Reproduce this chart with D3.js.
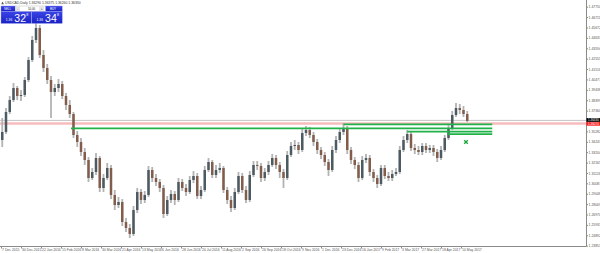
<!DOCTYPE html>
<html><head><meta charset="utf-8">
<script src="https://cdn.jsdelivr.net/npm/d3@7"></script>
<style>
html,body{margin:0;padding:0;background:#fff;overflow:hidden}
svg{display:block;font-family:"Liberation Sans",Arial,sans-serif}
</style></head><body>
<svg id="c" width="600" height="253"></svg>
<script>
// ---------------- data ----------------
const symbolTitle = "USDCAD,Daily  1.36290 1.36375 1.36260 1.36330";
const dateLabels = ["7 Dec 2015","30 Dec 2015","22 Jan 2016","15 Feb 2016","8 Mar 2016","30 Mar 2016",
  "21 Apr 2016","13 May 2016","6 Jun 2016","28 Jun 2016","20 Jul 2016","11 Aug 2016","2 Sep 2016",
  "26 Sep 2016","18 Oct 2016","9 Nov 2016","1 Dec 2016","23 Dec 2016","16 Jan 2017","9 Feb 2017",
  "3 Mar 2017","27 Mar 2017","18 Apr 2017","10 May 2017"];
const barsPerLabel = 16;
const barsPerCandle = 3;
const totalBars = 468;
const priceTicks = [1.47750,1.46711,1.45672,1.44633,1.43594,1.42555,1.41516,1.40477,1.39438,1.38399,
  1.37360,1.36321,1.35282,1.34243,1.33204,1.32165,1.31126,1.30087,1.29048,1.28009,1.26970,1.25931,
  1.24892,1.23853];
// [open, high, low, close]
const candles = [
[1.3442,1.3662,1.3372,1.3522],[1.3522,1.3762,1.3502,1.3722],[1.3722,1.3882,1.3702,1.3842],[1.3842,1.4012,1.3822,1.3962],
[1.3962,1.3982,1.3842,1.3882],[1.3882,1.3942,1.3832,1.3892],[1.3892,1.4072,1.3872,1.4042],[1.4042,1.4272,1.4022,1.4242],
[1.4242,1.4482,1.4222,1.4442],[1.4442,1.4622,1.4412,1.4562],[1.4562,1.4592,1.4262,1.4292],[1.4292,1.4342,1.4122,1.4162],
[1.4162,1.4202,1.4002,1.4042],[1.4042,1.4082,1.3662,1.3922],[1.3922,1.4002,1.3882,1.3962],[1.3962,1.4052,1.3922,1.4002],
[1.4002,1.4032,1.3852,1.3882],[1.3882,1.3912,1.3742,1.3792],[1.3792,1.3842,1.3662,1.3702],[1.3702,1.3722,1.3462,1.3492],
[1.3492,1.3532,1.3372,1.3422],[1.3422,1.3462,1.3282,1.3322],[1.3322,1.3362,1.3192,1.3242],[1.3242,1.3272,1.3022,1.3062],
[1.3062,1.3162,1.3042,1.3122],[1.3122,1.3312,1.3092,1.3262],[1.3262,1.3282,1.2922,1.2962],[1.2962,1.3102,1.2922,1.3062],
[1.3062,1.3212,1.3042,1.3162],[1.3162,1.3192,1.2852,1.2892],[1.2892,1.2942,1.2742,1.2792],[1.2792,1.2872,1.2762,1.2822],
[1.2822,1.2852,1.2582,1.2622],[1.2622,1.2662,1.2522,1.2562],[1.2562,1.2602,1.2462,1.2502],[1.2502,1.2782,1.2482,1.2742],
[1.2742,1.2962,1.2712,1.2922],[1.2922,1.2952,1.2802,1.2842],[1.2842,1.2932,1.2812,1.2892],[1.2892,1.3182,1.2872,1.3142],
[1.3142,1.3172,1.3022,1.3062],[1.3062,1.3102,1.2982,1.3022],[1.3022,1.3052,1.2922,1.2962],[1.2962,1.2992,1.2662,1.2702],
[1.2702,1.2882,1.2682,1.2842],[1.2842,1.2942,1.2812,1.2902],[1.2902,1.2932,1.2792,1.2842],[1.2842,1.3062,1.2822,1.3022],
[1.3022,1.3052,1.2932,1.2962],[1.2962,1.3002,1.2882,1.2922],[1.2922,1.3082,1.2902,1.3042],[1.3042,1.3132,1.3012,1.3082],
[1.3082,1.3112,1.2852,1.2882],[1.2882,1.2982,1.2852,1.2942],[1.2942,1.3182,1.2922,1.3142],[1.3142,1.3262,1.3122,1.3222],
[1.3222,1.3242,1.3062,1.3092],[1.3092,1.3192,1.3062,1.3142],[1.3142,1.3212,1.3112,1.3162],[1.3162,1.3182,1.2912,1.2942],
[1.2942,1.2972,1.2802,1.2842],[1.2842,1.2882,1.2722,1.2762],[1.2762,1.2962,1.2742,1.2922],[1.2922,1.3122,1.2902,1.3082],
[1.3082,1.3112,1.2912,1.2942],[1.2942,1.2982,1.2812,1.2842],[1.2842,1.3132,1.2822,1.3092],[1.3092,1.3232,1.3072,1.3192],
[1.3192,1.3232,1.3142,1.3182],[1.3182,1.3212,1.3022,1.3062],[1.3062,1.3162,1.3032,1.3122],[1.3122,1.3232,1.3092,1.3192],
[1.3192,1.3302,1.3172,1.3262],[1.3262,1.3292,1.3152,1.3192],[1.3192,1.3222,1.3062,1.3122],[1.3122,1.3152,1.2962,1.3062],
[1.3062,1.3332,1.3042,1.3292],[1.3292,1.3422,1.3272,1.3382],[1.3382,1.3442,1.3342,1.3392],[1.3392,1.3422,1.3302,1.3342],
[1.3342,1.3552,1.3322,1.3512],[1.3512,1.3582,1.3482,1.3542],[1.3542,1.3572,1.3462,1.3492],[1.3492,1.3522,1.3382,1.3422],
[1.3422,1.3452,1.3302,1.3342],[1.3342,1.3372,1.3252,1.3292],[1.3292,1.3322,1.3182,1.3222],[1.3222,1.3252,1.3082,1.3142],
[1.3142,1.3382,1.3122,1.3342],[1.3342,1.3482,1.3312,1.3442],[1.3442,1.3562,1.3412,1.3522],[1.3522,1.3612,1.3492,1.3562],
[1.3562,1.3582,1.3302,1.3342],[1.3342,1.3372,1.3202,1.3242],[1.3242,1.3272,1.3152,1.3192],[1.3192,1.3222,1.3022,1.3062],
[1.3062,1.3282,1.3042,1.3242],[1.3242,1.3302,1.3212,1.3262],[1.3262,1.3292,1.3082,1.3122],[1.3122,1.3152,1.3022,1.3062],
[1.3062,1.3092,1.2962,1.3002],[1.3002,1.3192,1.2982,1.3162],[1.3162,1.3192,1.3052,1.3082],[1.3082,1.3122,1.3032,1.3062],
[1.3062,1.3142,1.3032,1.3102],[1.3102,1.3162,1.3082,1.3122],[1.3122,1.3382,1.3102,1.3342],[1.3342,1.3482,1.3322,1.3442],
[1.3442,1.3542,1.3412,1.3502],[1.3502,1.3532,1.3332,1.3362],[1.3362,1.3402,1.3302,1.3342],[1.3342,1.3382,1.3292,1.3322],
[1.3322,1.3412,1.3292,1.3382],[1.3382,1.3412,1.3312,1.3342],[1.3342,1.3392,1.3312,1.3362],[1.3362,1.3392,1.3282,1.3322],
[1.3322,1.3352,1.3222,1.3262],[1.3262,1.3382,1.3242,1.3342],[1.3342,1.3492,1.3322,1.3462],[1.3462,1.3602,1.3442,1.3562],
[1.3562,1.3732,1.3542,1.3692],[1.3692,1.3812,1.3672,1.3762],[1.3762,1.3802,1.3702,1.3742],[1.3742,1.3782,1.3672,1.3702],
[1.3702,1.3732,1.3622,1.3633]
];
const bidPrice = 1.36330;
const pinkLinePrice = 1.36070;
const greenLevels = [
  {price:1.3599, fromBar:274},
  {price:1.3559, fromBar:56},
  {price:1.3525, fromBar:325},
  {price:1.3500, fromBar:357}
];
const levelEndBar = 393;
const crossMark = {bar:372, price:1.3422};
const bidQuote = {big:"1.36", pips:"32", frac:"8"};
const askQuote = {big:"1.36", pips:"34", frac:"8"};
const lotSize = "10.00";

// ---------------- drawing ----------------
const svg = d3.select("#c");
const plotRight = 586.5, plotBottom = 246.5;
const x = d3.scaleLinear().domain([0, totalBars]).range([1, 586]);
const y = d3.scaleLinear().domain([1.23853, 1.47750]).range([245.67, 6.7]);

svg.append("defs").append("clipPath").attr("id","clip")
  .append("rect").attr("x",0).attr("y",0).attr("width",plotRight).attr("height",plotBottom);

const plot = svg.append("g").attr("clip-path","url(#clip)");

// bid line (gray)
plot.append("line").attr("x1",0).attr("x2",plotRight)
  .attr("y1",y(bidPrice)-0.5).attr("y2",y(bidPrice)-0.5)
  .attr("stroke","#c4c4c4").attr("stroke-width",1);
// pink line
plot.append("line").attr("x1",0).attr("x2",plotRight)
  .attr("y1",y(pinkLinePrice)).attr("y2",y(pinkLinePrice))
  .attr("stroke","#f7bcbc").attr("stroke-width",2.4);

// candles
const cx = (d,i) => x(i*barsPerCandle + 1);
plot.selectAll("line.wick").data(candles).join("line").attr("class","wick")
  .attr("x1",cx).attr("x2",cx)
  .attr("y1",d=>y(d[1])).attr("y2",d=>y(d[2]))
  .attr("stroke","#b3b3b3").attr("stroke-width",1.8);
const bw = 2.5;
plot.selectAll("rect.body").data(candles).join("rect").attr("class","body")
  .attr("x",(d,i)=>cx(d,i)-bw/2).attr("width",bw)
  .attr("y",d=>y(Math.max(d[0],d[3])))
  .attr("height",d=>Math.max(0.7,Math.abs(y(d[0])-y(d[3]))))
  .attr("fill",d=>d[3]>=d[0]?"#4c5a62":"#835d4c");

// green levels
plot.selectAll("line.level").data(greenLevels).join("line").attr("class","level")
  .attr("x1",d=>x(d.fromBar)).attr("x2",x(levelEndBar))
  .attr("y1",d=>y(d.price)).attr("y2",d=>y(d.price))
  .attr("stroke","#22b24a").attr("stroke-width",1.8);

// cross mark
const crx = x(crossMark.bar), cry = y(crossMark.price), cs = 1.8;
plot.append("path")
  .attr("d",`M${crx-cs},${cry-cs}L${crx+cs},${cry+cs}M${crx+cs},${cry-cs}L${crx-cs},${cry+cs}`)
  .attr("stroke","#1aa53c").attr("stroke-width",1.3).attr("fill","none");

// frame
svg.append("line").attr("x1",plotRight).attr("x2",plotRight).attr("y1",0).attr("y2",plotBottom)
  .attr("stroke","#8a8a8a").attr("stroke-width",1);
svg.append("line").attr("x1",0).attr("x2",plotRight).attr("y1",plotBottom).attr("y2",plotBottom)
  .attr("stroke","#8a8a8a").attr("stroke-width",1);

// y axis (labels under the current-price boxes are hidden, as in the terminal)
const by = y(bidPrice);
const visibleTicks = priceTicks.filter(t => Math.abs(y(t) - (by + 1)) > 5);
const yAxis = d3.axisRight(y).tickValues(visibleTicks).tickFormat(d3.format(".5f"))
  .tickSize(1.5).tickPadding(0.6);
const ya = svg.append("g").attr("transform",`translate(${plotRight},0)`).call(yAxis);
ya.select(".domain").remove();
ya.selectAll("line").attr("stroke","#8a8a8a");
ya.selectAll("text").attr("font-size","3.4px").attr("fill","#555").attr("font-family","Liberation Sans, Arial, sans-serif");

// x axis
const xAxis = d3.axisBottom(x).tickValues(dateLabels.map((d,i)=>i*barsPerLabel))
  .tickFormat((d,i)=>dateLabels[i]).tickSize(2).tickPadding(0.5);
const xa = svg.append("g").attr("transform",`translate(0,${plotBottom})`).call(xAxis);
xa.select(".domain").remove();
xa.selectAll("line").attr("stroke","#8a8a8a");
xa.selectAll("text").attr("font-size","3.4px").attr("fill","#555").attr("text-anchor","start")
  .attr("dx","0.6").attr("font-family","Liberation Sans, Arial, sans-serif");

// price boxes on axis
svg.append("rect").attr("x",plotRight).attr("y",by-2.8).attr("width",600-plotRight).attr("height",3.8).attr("fill","#000");
svg.append("text").attr("x",plotRight+1.5).attr("y",by+0.1).text(bidPrice.toFixed(5))
  .attr("font-size","3px").attr("fill","#fff");
svg.append("rect").attr("x",plotRight).attr("y",by+1.0).attr("width",600-plotRight).attr("height",3.8).attr("fill","#ff1e1e");
svg.append("text").attr("x",plotRight+1.5).attr("y",by+3.9).text(pinkLinePrice.toFixed(5))
  .attr("font-size","3px").attr("fill","#fff");

// title
svg.append("path").attr("d","M1.3,4.2L2.6,1.6L3.9,4.2Z").attr("fill","#555");
svg.append("text").attr("x",5).attr("y",4.1).text(symbolTitle)
  .attr("font-size","3.4px").attr("fill","#333");

// one-click trading panel
const defs = svg.select("defs");
const gr = defs.append("linearGradient").attr("id","blue").attr("x1",0).attr("y1",0).attr("x2",0).attr("y2",1);
gr.append("stop").attr("offset","0%").attr("stop-color","#3a44e6");
gr.append("stop").attr("offset","100%").attr("stop-color","#1b22c4");
const p = svg.append("g");
p.append("rect").attr("x",1).attr("y",6).attr("width",14.3).attr("height",5.4).attr("fill","url(#blue)").attr("stroke","#8890f0").attr("stroke-width",0.4);
p.append("text").attr("x",4).attr("y",9.8).text("SELL").attr("font-size","2.9px").attr("fill","#fff");
p.append("rect").attr("x",15.3).attr("y",6).attr("width",30.4).attr("height",5.4).attr("fill","#fff").attr("stroke","#aaa").attr("stroke-width",0.4);
p.append("rect").attr("x",15.5).attr("y",6.3).attr("width",4.5).attr("height",4.8).attr("fill","#e4e4e4");
p.append("text").attr("x",17.7).attr("y",9.9).attr("text-anchor","middle").text("-").attr("font-size","3px").attr("fill","#444");
p.append("rect").attr("x",39.2).attr("y",6.3).attr("width",4.8).attr("height",4.8).attr("fill","#e4e4e4");
p.append("text").attr("x",41.6).attr("y",9.9).attr("text-anchor","middle").text("+").attr("font-size","3px").attr("fill","#444");
p.append("text").attr("x",31.5).attr("y",9.9).attr("text-anchor","middle").text(lotSize).attr("font-size","2.9px").attr("fill","#222");
p.append("rect").attr("x",45.7).attr("y",6).attr("width",16.5).attr("height",5.4).attr("fill","url(#blue)").attr("stroke","#8890f0").attr("stroke-width",0.4);
p.append("text").attr("x",50).attr("y",9.8).text("BUY").attr("font-size","2.9px").attr("fill","#fff");

function quoteBox(x0, q){
  p.append("rect").attr("x",x0).attr("y",11.6).attr("width",30.4).attr("height",11.8)
    .attr("fill","url(#blue)").attr("stroke","#8890f0").attr("stroke-width",0.4);
  p.append("text").attr("x",x0+4.8).attr("y",21.2).text(q.big).attr("font-size","3.3px").attr("fill","#fff");
  p.append("text").attr("x",x0+13.3).attr("y",21.8).text(q.pips).attr("font-size","10.5px").attr("fill","#fff");
  p.append("text").attr("x",x0+25.3).attr("y",16.2).text(q.frac).attr("font-size","3.6px").attr("fill","#fff");
}
quoteBox(1, bidQuote);
quoteBox(31.8, askQuote);
</script>
</body></html>
